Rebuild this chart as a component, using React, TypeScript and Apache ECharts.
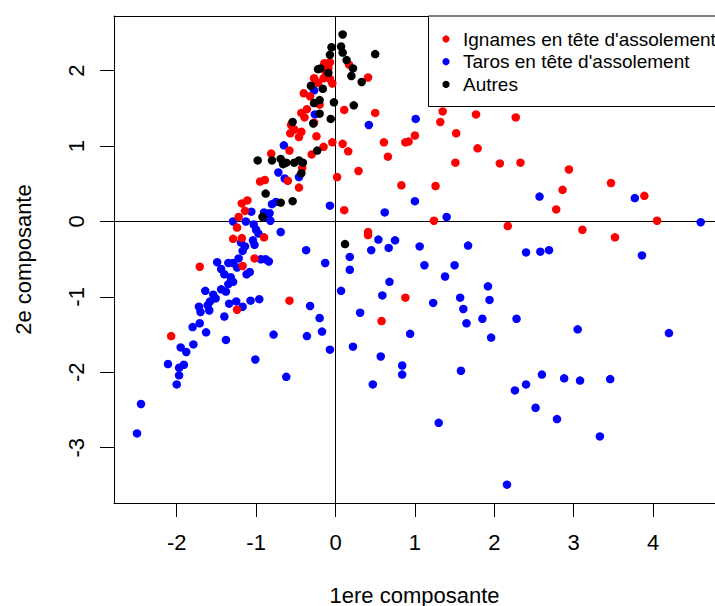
import React, { useEffect, useRef } from "react";
import * as echarts from "echarts";

const xTicks = [-2, -1, 0, 1, 2, 3, 4];
const yTicks = [-3, -2, -1, 0, 1, 2];
const legendNames = ["Ignames en tête d'assolement", "Taros en tête d'assolement", "Autres"];
const seriesColors = ["#FF0000", "#0000FF", "#000000"];

const autres: number[][] = [
  [0.09, 2.48], [-0.05, 2.31], [0.07, 2.32], [0.09, 2.24], [-0.07, 2.21], [0.14, 2.14],
  [-0.22, 2.02], [-0.19, 2.03], [-0.09, 1.97], [-0.31, 1.8], [-0.16, 1.76], [-0.27, 1.57],
  [-0.2, 1.61], [-0.02, 1.58], [-0.2, 1.43], [-0.28, 1.3], [-0.06, 1.36], [-0.54, 1.32],
  [-0.23, 0.94], [-0.98, 0.81], [-0.8, 0.81], [-0.69, 0.83], [-0.66, 0.76], [-0.62, 0.78],
  [-0.52, 0.78], [-0.46, 0.81], [-0.41, 0.78], [-0.43, 0.64], [0.22, 2.03], [0.2, 1.93],
  [0.33, 1.85], [0.5, 2.22], [0.23, 1.54], [-0.88, 0.37], [-0.69, 0.25], [-0.54, 0.27],
  [-0.92, 0.06], [0.12, -0.3],
];

const ignames: number[][] = [
  [-0.14, 2.1], [-0.07, 2.11], [-0.09, 2.03], [-0.12, 1.97], [-0.15, 1.9], [-0.07, 1.89],
  [-0.04, 1.83], [-0.27, 1.9], [-0.22, 1.84], [-0.4, 1.7], [-0.32, 1.66], [-0.2, 1.55],
  [0.11, 1.48], [-0.36, 1.49], [-0.43, 1.44], [-0.39, 1.38], [-0.27, 1.31], [-0.56, 1.28],
  [-0.52, 1.22], [-0.43, 1.19], [-0.57, 1.17], [-0.46, 1.12], [-0.24, 1.13], [-0.04, 1.05],
  [0.09, 1.03], [-0.15, 0.99], [-0.3, 0.89], [-0.58, 0.94], [-0.81, 0.9], [0.16, 0.93],
  [-0.42, 0.71], [-0.95, 0.53], [-0.89, 0.55], [0.02, 0.59], [0.17, 2.08], [0.41, 1.91],
  [0.5, 1.44], [0.29, 0.67], [0.61, 1.05], [0.66, 0.86], [0.88, 1.05], [0.92, 1.06],
  [1.0, 1.14], [1.32, 1.32], [1.35, 1.46], [1.77, 1.42], [2.27, 1.38], [1.52, 1.17],
  [1.79, 0.97], [1.51, 0.78], [2.07, 0.77], [2.33, 0.78], [2.94, 0.69], [0.83, 0.48],
  [1.26, 0.47], [0.11, 0.15], [1.24, 0.01], [0.41, -0.14], [0.41, -0.18], [2.17, -0.06],
  [2.86, 0.42], [2.78, 0.16], [0.88, -1.01], [0.58, -1.32], [3.47, 0.51], [3.89, 0.34],
  [4.05, 0.01], [3.11, -0.11], [3.52, -0.21], [-0.6, 0.54], [-0.46, 0.45], [-1.18, 0.24],
  [-1.11, 0.28], [-1.14, 0.14], [-1.22, 0.06], [-1.24, -0.08], [-1.29, -0.23], [-1.18, -0.22],
  [-0.9, -0.21], [-1.02, -0.49], [-1.17, -0.59], [-1.71, -0.6], [-0.58, -1.05], [-1.24, -1.17],
  [-2.07, -1.52],
];

const taros: number[][] = [
  [-0.27, 1.74], [-0.26, 1.42], [-0.65, 1.01], [-0.72, 0.65], [-0.46, 0.59], [-0.64, 0.57],
  [0.42, 1.28], [1.01, 1.36], [3.77, 0.31], [4.6, -0.01], [3.86, -0.45], [3.05, -1.43],
  [4.2, -1.48], [-0.07, 0.21], [0.62, 0.12], [1.0, 0.27], [1.4, 0.06], [2.57, 0.33],
  [0.54, -0.24], [0.75, -0.25], [0.45, -0.38], [0.67, -0.35], [1.06, -0.33], [1.67, -0.32],
  [0.18, -0.47], [0.18, -0.64], [1.12, -0.58], [1.5, -0.58], [1.38, -0.73], [2.4, -0.41],
  [2.58, -0.4], [2.69, -0.38], [0.68, -0.8], [0.07, -0.92], [0.59, -0.98], [1.57, -1.01],
  [1.92, -0.86], [1.23, -1.08], [1.94, -1.04], [1.61, -1.16], [0.31, -1.21], [1.85, -1.29],
  [1.65, -1.35], [2.28, -1.29], [0.94, -1.49], [1.96, -1.54], [-0.07, -1.7], [0.22, -1.66],
  [0.57, -1.79], [0.84, -1.91], [0.84, -2.03], [0.47, -2.16], [1.58, -1.98], [1.3, -2.67],
  [2.26, -2.24], [2.4, -2.16], [2.52, -2.47], [2.6, -2.03], [2.79, -2.62], [2.88, -2.08],
  [2.16, -3.49], [3.08, -2.11], [3.46, -2.09], [3.33, -2.85], [-1.63, -1.47], [-1.38, -1.57],
  [-0.78, -1.5], [-0.36, -1.52], [-0.17, -1.46], [-1.95, -1.67], [-1.88, -1.73], [-1.79, -1.63],
  [-2.11, -1.89], [-1.97, -1.94], [-1.91, -1.9], [-1.97, -2.04], [-2.0, -2.16], [-1.01, -1.83],
  [-0.62, -2.06], [-2.45, -2.42], [-2.5, -2.81], [-0.8, 0.23], [-0.75, 0.26], [-1.06, 0.13],
  [-0.9, 0.12], [-0.83, 0.11], [-0.88, 0.06], [-0.82, 0.01], [-1.29, 0.0], [-1.13, 0.0],
  [-1.03, -0.04], [-1.0, -0.11], [-0.97, -0.16], [-0.69, -0.14], [-1.04, -0.25], [-1.02, -0.31],
  [-1.19, -0.28], [-1.14, -0.33], [-1.17, -0.39], [-0.37, -0.38], [-0.94, -0.5], [-0.88, -0.5],
  [-0.84, -0.53], [-1.22, -0.49], [-1.49, -0.54], [-1.35, -0.55], [-1.29, -0.55], [-1.24, -0.61],
  [-1.44, -0.63], [-1.4, -0.7], [-1.32, -0.74], [-1.29, -0.8], [-1.35, -0.83], [-1.12, -0.7],
  [-1.08, -0.67], [-0.13, -0.55], [-1.64, -0.92], [-1.44, -0.9], [-1.38, -0.93], [-1.54, -0.97],
  [-1.51, -1.02], [-1.58, -1.06], [-1.61, -1.11], [-1.72, -1.13], [-1.7, -1.2], [-1.59, -1.18],
  [-1.34, -1.09], [-1.25, -1.06], [-1.17, -1.13], [-1.07, -1.05], [-0.96, -1.03], [-1.4, -1.26],
  [-0.32, -1.12], [-0.2, -1.28], [-1.8, -1.4], [-1.71, -1.35],
];

const FONT = "'Liberation Sans', Arial, Helvetica, sans-serif";
const X_MIN = -2.79;
const X_MAX = 4.78;

export default function App() {
  const ref = useRef<HTMLDivElement>(null);
  useEffect(() => {
    if (!ref.current) return;
    const chart = echarts.init(ref.current, undefined, { renderer: "svg" });
    const scatter = (name: string, data: number[][], color: string, extra: any = {}) => ({
      type: "scatter",
      name,
      data,
      symbol: "circle",
      symbolSize: 8.5,
      itemStyle: { color, opacity: 1 },
      z: 3,
      silent: true,
      ...extra,
    });
    chart.setOption({
      animation: false,
      backgroundColor: "#ffffff",
      textStyle: { fontFamily: FONT },
      grid: { left: 114, top: 16, width: 601, height: 487, show: false, containLabel: false, outerBoundsMode: "none" },
      xAxis: [
        {
          type: "value",
          min: X_MIN,
          max: X_MAX,
          position: "bottom",
          name: "1ere composante",
          nameLocation: "middle",
          nameGap: 81,
          nameTextStyle: { fontSize: 22, color: "#000", fontFamily: FONT },
          axisLine: { show: true, onZero: false, lineStyle: { color: "#000", width: 1 } },
          axisTick: { show: true, length: 14, lineStyle: { color: "#000" }, customValues: xTicks },
          axisLabel: { show: true, margin: 28, fontSize: 22, color: "#000", fontFamily: FONT, customValues: xTicks, formatter: (v: number) => String(v) },
          splitLine: { show: false },
        },
        {
          type: "value",
          min: X_MIN,
          max: X_MAX,
          position: "top",
          axisLine: { show: true, onZero: false, lineStyle: { color: "#000", width: 1 } },
          axisTick: { show: false },
          axisLabel: { show: false },
          splitLine: { show: false },
        },
      ],
      yAxis: {
        type: "value",
        min: -3.733,
        max: 2.725,
        name: "2e composante",
        nameLocation: "middle",
        nameGap: 80,
        nameRotate: 90,
        nameTextStyle: { fontSize: 22, color: "#000", fontFamily: FONT },
        axisLine: { show: true, onZero: false, lineStyle: { color: "#000", width: 1 } },
        axisTick: { show: true, length: 14, lineStyle: { color: "#000" }, customValues: yTicks },
        axisLabel: { show: true, margin: 27, rotate: 90, fontSize: 22, color: "#000", fontFamily: FONT, customValues: yTicks, formatter: (v: number) => String(v) },
        splitLine: { show: false },
      },
      series: [
        scatter(legendNames[1], taros, seriesColors[1], {
          markLine: {
            silent: true,
            symbol: ["none", "none"],
            label: { show: false },
            lineStyle: { color: "#000", type: "solid", width: 1 },
            data: [{ xAxis: 0 }, { yAxis: 0 }],
            z: 2,
          },
        }),
        scatter(legendNames[0], ignames, seriesColors[0]),
        scatter(legendNames[2], autres, seriesColors[2]),
      ],
      graphic: [
        {
          type: "rect",
          shape: { x: 428.5, y: 16, width: 300, height: 90.5 },
          style: { fill: "#fff", stroke: "#000", lineWidth: 1 },
          z: 100,
        },
        ...legendNames.map((n, i) => ({
          type: "circle",
          shape: { cx: 446, cy: 39 + i * 22.7, r: 3.6 },
          style: { fill: seriesColors[i] },
          z: 101,
        })),
        ...legendNames.map((n, i) => ({
          type: "text",
          x: 463,
          y: 39 + i * 22.7,
          style: { text: n, fontSize: 19, fill: "#000", fontFamily: FONT, verticalAlign: "middle", textAlign: "left" },
          z: 101,
        })),
      ],
    });
    return () => chart.dispose();
  }, []);
  return <div ref={ref} style={{ position: "absolute", left: 0, top: 0, width: 715, height: 606 }} />;
}
